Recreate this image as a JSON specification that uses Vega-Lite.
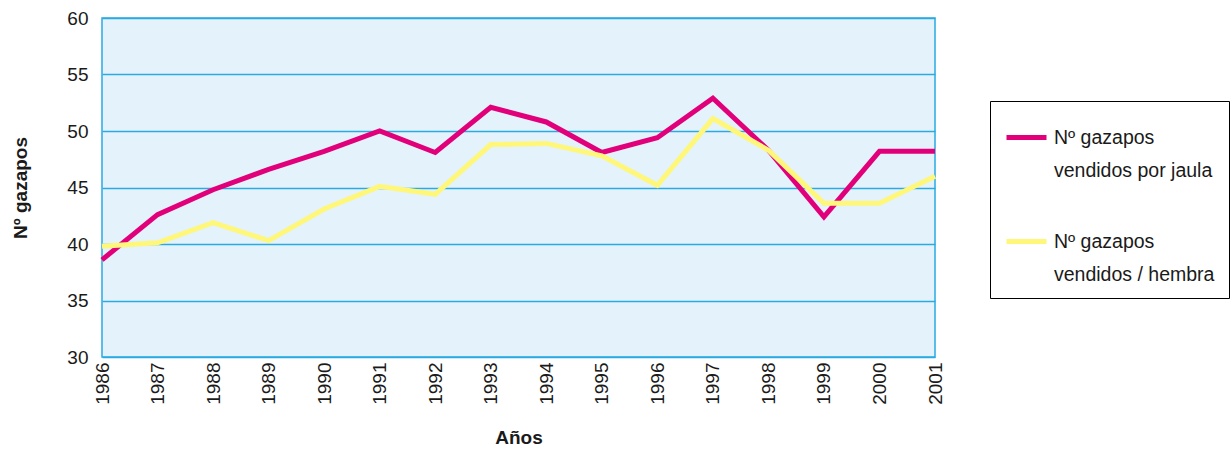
{
  "$schema": "https://vega.github.io/schema/vega-lite/v6.json",
  "width": 833,
  "height": 339,
  "autosize": {"type": "none"},
  "padding": {"left": 102, "top": 18, "right": 297, "bottom": 92},
  "background": "white",
  "config": {
    "font": "Liberation Sans",
    "view": {"fill": "#e4f2fc", "stroke": "#29abe2", "strokeWidth": 1.5}
  },
  "data": {
    "values": [
      {"year": 1986, "serie": "s1", "valor": 38.6},
      {"year": 1987, "serie": "s1", "valor": 42.6},
      {"year": 1988, "serie": "s1", "valor": 44.8},
      {"year": 1989, "serie": "s1", "valor": 46.6},
      {"year": 1990, "serie": "s1", "valor": 48.2},
      {"year": 1991, "serie": "s1", "valor": 50.0},
      {"year": 1992, "serie": "s1", "valor": 48.1},
      {"year": 1993, "serie": "s1", "valor": 52.1},
      {"year": 1994, "serie": "s1", "valor": 50.8},
      {"year": 1995, "serie": "s1", "valor": 48.1},
      {"year": 1996, "serie": "s1", "valor": 49.4},
      {"year": 1997, "serie": "s1", "valor": 52.9},
      {"year": 1998, "serie": "s1", "valor": 48.3},
      {"year": 1999, "serie": "s1", "valor": 42.4},
      {"year": 2000, "serie": "s1", "valor": 48.2},
      {"year": 2001, "serie": "s1", "valor": 48.2},
      {"year": 1986, "serie": "s2", "valor": 39.8},
      {"year": 1987, "serie": "s2", "valor": 40.1},
      {"year": 1988, "serie": "s2", "valor": 41.9},
      {"year": 1989, "serie": "s2", "valor": 40.3},
      {"year": 1990, "serie": "s2", "valor": 43.1},
      {"year": 1991, "serie": "s2", "valor": 45.1},
      {"year": 1992, "serie": "s2", "valor": 44.4},
      {"year": 1993, "serie": "s2", "valor": 48.8},
      {"year": 1994, "serie": "s2", "valor": 48.9},
      {"year": 1995, "serie": "s2", "valor": 47.8},
      {"year": 1996, "serie": "s2", "valor": 45.2},
      {"year": 1997, "serie": "s2", "valor": 51.1},
      {"year": 1998, "serie": "s2", "valor": 48.3},
      {"year": 1999, "serie": "s2", "valor": 43.6},
      {"year": 2000, "serie": "s2", "valor": 43.6},
      {"year": 2001, "serie": "s2", "valor": 46.0}
    ]
  },
  "mark": {"type": "line", "strokeWidth": 5, "strokeJoin": "miter"},
  "encoding": {
    "x": {
      "field": "year",
      "type": "quantitative",
      "scale": {"domain": [1986, 2001], "nice": false, "zero": false},
      "axis": {
        "values": [1986, 1987, 1988, 1989, 1990, 1991, 1992, 1993, 1994, 1995, 1996, 1997, 1998, 1999, 2000, 2001],
        "format": "d",
        "labelAngle": -90,
        "labelFontSize": 19,
        "labelColor": "#1a1a1a",
        "labelPadding": 5,
        "ticks": false,
        "domain": false,
        "grid": false,
        "title": "Años",
        "titleFontSize": 19,
        "titleFontWeight": "bold",
        "titleColor": "#1a1a1a",
        "titlePadding": 24
      }
    },
    "y": {
      "field": "valor",
      "type": "quantitative",
      "scale": {"domain": [30, 60], "nice": false, "zero": false},
      "axis": {
        "values": [30, 35, 40, 45, 50, 55, 60],
        "labelFontSize": 19,
        "labelColor": "#1a1a1a",
        "labelPadding": 14,
        "ticks": false,
        "domain": false,
        "grid": true,
        "gridColor": "#29abe2",
        "gridWidth": 1.5,
        "gridOpacity": 1,
        "title": "Nº gazapos",
        "titleFontSize": 19,
        "titleFontWeight": "bold",
        "titleColor": "#1a1a1a",
        "titlePadding": 36
      }
    },
    "color": {
      "field": "serie",
      "type": "nominal",
      "scale": {"domain": ["s1", "s2"], "range": ["#e2007a", "#fff77a"]},
      "legend": {
        "title": null,
        "orient": "none",
        "legendX": 888,
        "legendY": 83,
        "strokeColor": "#000000",
        "fillColor": "#ffffff",
        "padding": 14,
        "symbolType": "stroke",
        "symbolSize": 1600,
        "symbolStrokeWidth": 5,
        "labelFontSize": 19.5,
        "labelColor": "#1a1a1a",
        "labelOffset": 5,
        "labelLimit": 300,
        "rowPadding": 39,
        "labelExpr": "datum.label == 's1' ? ['Nº gazapos', 'vendidos por jaula'] : ['Nº gazapos', 'vendidos / hembra']",
        "encode": {
          "labels": {"update": {"lineHeight": {"value": 33}}}
        }
      }
    }
  }
}
